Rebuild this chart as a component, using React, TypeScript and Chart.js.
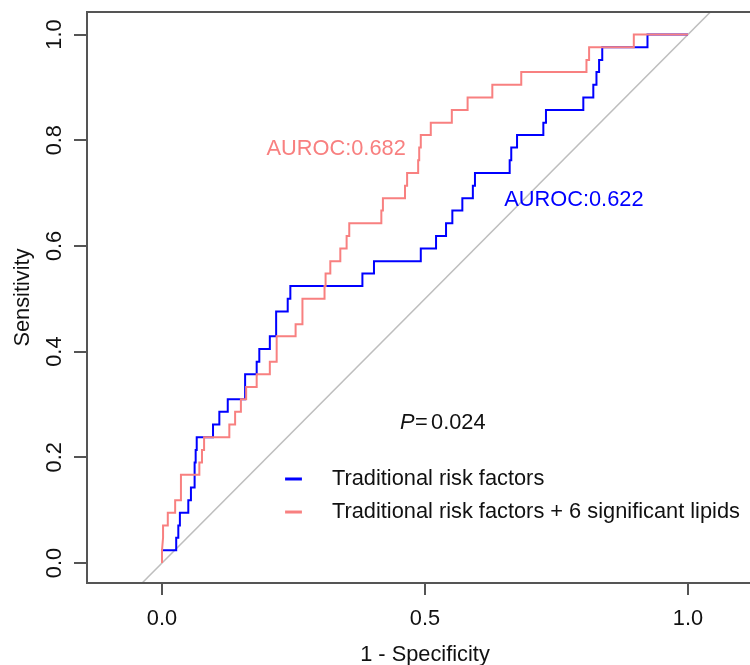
import React, { useEffect, useRef } from 'react';
import { Chart, registerables } from 'chart.js';

Chart.register(...registerables);

// ---------- data ----------
const xTicks = [0, 0.5, 1];
const yTicks = [0, 0.2, 0.4, 0.6, 0.8, 1];

const xTitle = '1 - Specificity';
const yTitle = 'Sensitivity';

const seriesLabels = [
  'Traditional risk factors',
  'Traditional risk factors + 6 significant lipids',
];
const aurocLabels = ['AUROC:0.622', 'AUROC:0.682'];
const pValue = '0.024';

// Traditional risk factors (1 - specificity, sensitivity)
const tradFpr = [
  0, 0, 0.027, 0.027, 0.031, 0.031, 0.034, 0.034, 0.05, 0.05, 0.055, 0.055, 0.062, 0.062,
  0.064, 0.064, 0.066, 0.066, 0.097, 0.097, 0.109, 0.109, 0.125, 0.125, 0.158, 0.158,
  0.18, 0.18, 0.185, 0.185, 0.205, 0.205, 0.217, 0.217, 0.239, 0.239, 0.244, 0.244,
  0.381, 0.381, 0.403, 0.403, 0.492, 0.492, 0.521, 0.521, 0.54, 0.54, 0.552, 0.552,
  0.571, 0.571, 0.591, 0.591, 0.595, 0.595, 0.661, 0.661, 0.664, 0.664, 0.675, 0.675,
  0.725, 0.725, 0.73, 0.73, 0.801, 0.801, 0.82, 0.82, 0.826, 0.826, 0.831, 0.831,
  0.837, 0.837, 0.923, 0.923, 1,
];
const tradSens = [
  0, 0.024, 0.024, 0.048, 0.048, 0.071, 0.071, 0.095, 0.095, 0.119, 0.119, 0.143, 0.143, 0.19,
  0.19, 0.214, 0.214, 0.238, 0.238, 0.262, 0.262, 0.286, 0.286, 0.31, 0.31, 0.357,
  0.357, 0.381, 0.381, 0.405, 0.405, 0.429, 0.429, 0.476, 0.476, 0.5, 0.5, 0.524,
  0.524, 0.548, 0.548, 0.571, 0.571, 0.595, 0.595, 0.619, 0.619, 0.643, 0.643, 0.667,
  0.667, 0.69, 0.69, 0.714, 0.714, 0.738, 0.738, 0.762, 0.762, 0.786, 0.786, 0.81,
  0.81, 0.833, 0.833, 0.857, 0.857, 0.881, 0.881, 0.905, 0.905, 0.929, 0.929, 0.952,
  0.952, 0.976, 0.976, 1, 1,
];

// Traditional risk factors + 6 significant lipids
const lipidFpr = [
  0, 0, 0.002, 0.002, 0.011, 0.011, 0.025, 0.025, 0.036, 0.036, 0.071, 0.071, 0.076, 0.076,
  0.08, 0.08, 0.128, 0.128, 0.139, 0.139, 0.15, 0.15, 0.16, 0.16, 0.18, 0.18, 0.205,
  0.205, 0.218, 0.218, 0.254, 0.254, 0.267, 0.267, 0.309, 0.309, 0.311, 0.311, 0.32,
  0.32, 0.339, 0.339, 0.351, 0.351, 0.356, 0.356, 0.417, 0.417, 0.42, 0.42, 0.462,
  0.462, 0.466, 0.466, 0.487, 0.487, 0.489, 0.489, 0.492, 0.492, 0.511, 0.511, 0.551,
  0.551, 0.581, 0.581, 0.628, 0.628, 0.683, 0.683, 0.807, 0.807, 0.812, 0.812, 0.897,
  0.897, 1,
];
const lipidSens = [
  0, 0.024, 0.048, 0.071, 0.071, 0.095, 0.095, 0.119, 0.119, 0.167, 0.167, 0.19, 0.19, 0.214,
  0.214, 0.238, 0.238, 0.262, 0.262, 0.286, 0.286, 0.31, 0.31, 0.333, 0.333, 0.357, 0.357,
  0.381, 0.381, 0.429, 0.429, 0.452, 0.452, 0.5, 0.5, 0.524, 0.524, 0.548, 0.548,
  0.571, 0.571, 0.595, 0.595, 0.619, 0.619, 0.643, 0.643, 0.667, 0.667, 0.69, 0.69,
  0.714, 0.714, 0.738, 0.738, 0.762, 0.762, 0.786, 0.786, 0.81, 0.81, 0.833, 0.833,
  0.857, 0.857, 0.881, 0.881, 0.905, 0.905, 0.929, 0.929, 0.952, 0.952, 0.976, 0.976,
  1, 1,
];

// ---------- styles / layout ----------
const BLUE = '#0000FF';
const PINK = '#F88080';
const GREY = '#BEBEBE';
const AXIS = '#555555';
const TEXT = '#111111';
const FAMILY = '"Liberation Sans", Arial, Helvetica, sans-serif';
const FSIZE = 21.8;
const FONT = `${FSIZE}px ${FAMILY}`;

const X_MIN = -0.1426;
const X_MAX = 1.1179;
const Y_MIN = -0.0378;
const Y_MAX = 1.0426;

const aurocPos = [
  { x: 0.783, y: 0.687 },
  { x: 0.331, y: 0.784 },
];
const pPos = { x: 0.4525, y: 0.265 };
const legendPos = { lineX0: 0.234, lineX1: 0.266, textX: 0.323, rows: [0.159, 0.0965] };

const toPoints = (xs: number[], ys: number[]) => xs.map((x, i) => ({ x, y: ys[i] }));

const decorPlugin = {
  id: 'rocDecor',
  afterDraw(chart: any) {
    const { ctx, chartArea: a, scales } = chart;
    const xs = scales.x;
    const ys = scales.y;
    ctx.save();
    // box
    ctx.strokeStyle = AXIS;
    ctx.lineWidth = 2;
    ctx.strokeRect(a.left, a.top, a.right - a.left + 30, a.bottom - a.top);

    ctx.fillStyle = TEXT;
    ctx.font = FONT;
    ctx.textAlign = 'center';
    ctx.textBaseline = 'middle';
    // y tick labels (rotated, as in R)
    yTicks.forEach((v) => {
      ctx.save();
      ctx.translate(a.left - 32, ys.getPixelForValue(v));
      ctx.rotate(-Math.PI / 2);
      ctx.fillText(v.toFixed(1), 0, 0);
      ctx.restore();
    });
    // y title
    ctx.save();
    ctx.translate(23, (a.top + a.bottom) / 2);
    ctx.rotate(-Math.PI / 2);
    ctx.fillText(yTitle, 0, 0);
    ctx.restore();
    // x title
    ctx.fillText(xTitle, (xs.getPixelForValue(0) + xs.getPixelForValue(1)) / 2, a.bottom + 72);

    // AUROC labels
    ctx.fillStyle = BLUE;
    ctx.fillText(aurocLabels[0], xs.getPixelForValue(aurocPos[0].x), ys.getPixelForValue(aurocPos[0].y));
    ctx.fillStyle = PINK;
    ctx.fillText(aurocLabels[1], xs.getPixelForValue(aurocPos[1].x), ys.getPixelForValue(aurocPos[1].y));

    // P value
    ctx.fillStyle = TEXT;
    ctx.textAlign = 'left';
    const px = xs.getPixelForValue(pPos.x);
    const py = ys.getPixelForValue(pPos.y);
    ctx.font = `italic ${FONT}`;
    ctx.fillText('P', px, py);
    ctx.font = FONT;
    ctx.fillText('=', px + 15, py);
    ctx.fillText(pValue, px + 31, py);

    // legend
    const colors = [BLUE, PINK];
    legendPos.rows.forEach((ry, i) => {
      const y = ys.getPixelForValue(ry);
      ctx.strokeStyle = colors[i];
      ctx.lineWidth = 3;
      ctx.beginPath();
      ctx.moveTo(xs.getPixelForValue(legendPos.lineX0), y);
      ctx.lineTo(xs.getPixelForValue(legendPos.lineX1), y);
      ctx.stroke();
      ctx.fillStyle = TEXT;
      ctx.fillText(seriesLabels[i], xs.getPixelForValue(legendPos.textX), y);
    });
    ctx.restore();
  },
};

export default function App() {
  const ref = useRef<HTMLCanvasElement | null>(null);

  useEffect(() => {
    if (!ref.current) return;
    const chart = new Chart(ref.current, {
      type: 'scatter',
      data: {
        datasets: [
          {
            label: 'reference',
            data: [
              { x: -0.2, y: -0.2 },
              { x: 1.2, y: 1.2 },
            ],
            showLine: true,
            borderColor: GREY,
            borderWidth: 1.5,
            pointRadius: 0,
            order: 3,
          },
          {
            label: seriesLabels[0],
            data: toPoints(tradFpr, tradSens),
            showLine: true,
            borderColor: BLUE,
            borderWidth: 2,
            pointRadius: 0,
            tension: 0,
            order: 2,
          },
          {
            label: seriesLabels[1],
            data: toPoints(lipidFpr, lipidSens),
            showLine: true,
            borderColor: PINK,
            borderWidth: 2,
            pointRadius: 0,
            tension: 0,
            order: 1,
          },
        ],
      },
      options: {
        animation: false,
        responsive: false,
        devicePixelRatio: 1,
        layout: { padding: { top: 12, left: 0, right: 0, bottom: 0 } },
        plugins: { legend: { display: false }, tooltip: { enabled: false } },
        scales: {
          x: {
            type: 'linear',
            min: X_MIN,
            max: X_MAX,
            bounds: 'data',
            afterBuildTicks: (s: any) => {
              s.ticks = xTicks.map((v) => ({ value: v }));
            },
            afterFit: (s: any) => {
              s.height = 82;
            },
            ticks: {
              autoSkip: false,
              maxRotation: 0,
              minRotation: 0,
              padding: 11,
              color: TEXT,
              font: { family: FAMILY, size: FSIZE },
              callback: (v: any) => Number(v).toFixed(1),
            },
            grid: {
              drawOnChartArea: false,
              drawTicks: true,
              tickLength: 12,
              color: AXIS,
              lineWidth: 2,
            },
            border: { display: false },
          },
          y: {
            type: 'linear',
            min: Y_MIN,
            max: Y_MAX,
            bounds: 'data',
            afterBuildTicks: (s: any) => {
              s.ticks = yTicks.map((v) => ({ value: v }));
            },
            afterFit: (s: any) => {
              s.width = 87;
            },
            ticks: { display: false },
            grid: {
              drawOnChartArea: false,
              drawTicks: true,
              tickLength: 13,
              color: AXIS,
              lineWidth: 2,
            },
            border: { display: false },
          },
        },
      },
      plugins: [decorPlugin],
    } as any);
    return () => chart.destroy();
  }, []);

  return (
    <div style={{ position: 'fixed', left: 0, top: 0, width: 750, height: 665, background: '#fff', overflow: 'hidden' }}>
      <canvas ref={ref} width={750} height={665} style={{ display: 'block' }} />
    </div>
  );
}
